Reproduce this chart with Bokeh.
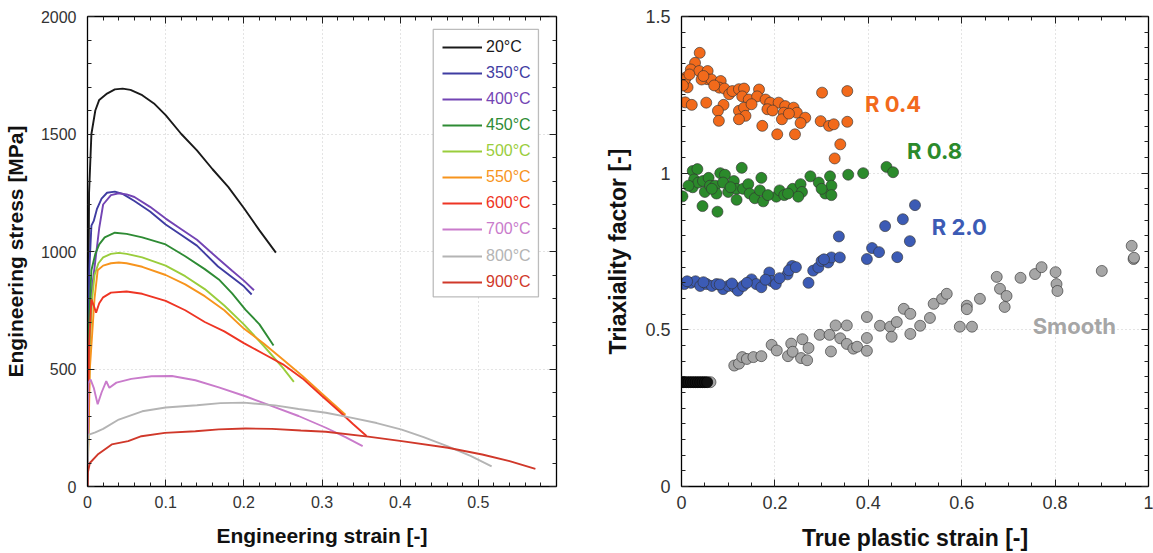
from bokeh.plotting import figure
from bokeh.layouts import row
from bokeh.models import (Legend, LegendItem, LinearAxis, Range1d, BoxAnnotation,
                          SingleIntervalTicker, CustomJSTickFormatter)
from bokeh.core.properties import value
from bokeh.embed import file_html
from bokeh.resources import INLINE

# ---------------- Left panel data: engineering stress-strain ----------------
temps = ["20°C", "350°C", "400°C", "450°C", "500°C", "550°C", "600°C", "700°C", "800°C", "900°C"]
temp_colors = ["#1a1a1a", "#3f3ca2", "#7344b4", "#2e8b34", "#9acd3c", "#f7941d",
               "#ee3524", "#c97bcb", "#b4b4b4", "#d0382a"]

strain_20 = [0, 0.002, 0.005, 0.01, 0.015, 0.025, 0.035, 0.045, 0.055, 0.07, 0.085, 0.1, 0.12, 0.14, 0.16, 0.18, 0.2, 0.22, 0.241]
stress_20 = [0, 1250, 1500, 1600, 1645, 1672, 1690, 1693, 1688, 1665, 1630, 1580, 1500, 1430, 1350, 1275, 1185, 1090, 995]

strain_350 = [0, 0.002, 0.005, 0.008, 0.012, 0.018, 0.025, 0.035, 0.045, 0.06, 0.08, 0.1, 0.12, 0.14, 0.167, 0.185, 0.2, 0.21]
stress_350 = [0, 900, 1110, 1130, 1180, 1225, 1250, 1255, 1245, 1215, 1170, 1115, 1070, 1025, 936, 890, 852, 817]

strain_400 = [0, 0.003, 0.006, 0.01, 0.015, 0.02, 0.03, 0.04, 0.05, 0.06, 0.08, 0.1, 0.12, 0.14, 0.167, 0.185, 0.2, 0.213]
stress_400 = [0, 700, 850, 960, 1100, 1200, 1240, 1248, 1243, 1232, 1190, 1140, 1095, 1050, 970, 918, 876, 835]

strain_450 = [0, 0.002, 0.005, 0.01, 0.015, 0.022, 0.035, 0.05, 0.07, 0.1, 0.125, 0.15, 0.168, 0.185, 0.202, 0.22, 0.238]
stress_450 = [0, 700, 920, 990, 1030, 1060, 1080, 1075, 1060, 1030, 980, 925, 881, 822, 753, 690, 600]

strain_500 = [0, 0.003, 0.006, 0.009, 0.014, 0.02, 0.03, 0.04, 0.05, 0.07, 0.1, 0.125, 0.15, 0.175, 0.2, 0.225, 0.25, 0.264]
stress_500 = [0, 600, 800, 900, 950, 975, 990, 994, 990, 975, 940, 895, 840, 770, 690, 600, 505, 445]

strain_550 = [0, 0.003, 0.006, 0.009, 0.013, 0.02, 0.03, 0.04, 0.05, 0.07, 0.1, 0.125, 0.15, 0.175, 0.2, 0.225, 0.25, 0.275, 0.3, 0.315, 0.33]
stress_550 = [0, 500, 650, 800, 920, 940, 950, 953, 950, 935, 900, 860, 810, 750, 672, 610, 540, 470, 395, 350, 305]

strain_600 = [0, 0.002, 0.005, 0.008, 0.011, 0.015, 0.02, 0.03, 0.05, 0.07, 0.1, 0.125, 0.15, 0.175, 0.2, 0.225, 0.25, 0.275, 0.3, 0.322, 0.34, 0.357]
stress_600 = [0, 600, 796, 770, 740, 780, 805, 825, 830, 820, 790, 750, 700, 660, 610, 565, 520, 460, 385, 320, 265, 215]

strain_700 = [0, 0.001, 0.004, 0.008, 0.013, 0.018, 0.024, 0.028, 0.037, 0.056, 0.082, 0.108, 0.138, 0.168, 0.202, 0.236, 0.27, 0.305, 0.33, 0.352]
stress_700 = [0, 440, 455, 420, 350, 400, 448, 420, 442, 458, 469, 470, 452, 422, 384, 342, 300, 250, 210, 172]

strain_800 = [0, 0.001, 0.01, 0.02, 0.04, 0.07, 0.1, 0.14, 0.17, 0.2, 0.24, 0.27, 0.305, 0.337, 0.37, 0.402, 0.43, 0.461, 0.49, 0.517]
stress_800 = [0, 220, 230, 245, 285, 320, 336, 346, 355, 357, 345, 330, 314, 293, 270, 242, 210, 171, 130, 86]

strain_900 = [0, 0.0005, 0.003, 0.013, 0.031, 0.052, 0.069, 0.099, 0.138, 0.168, 0.202, 0.236, 0.273, 0.305, 0.359, 0.402, 0.461, 0.505, 0.54, 0.573]
stress_900 = [0, 60, 100, 136, 179, 193, 214, 228, 235, 243, 247, 245, 238, 233, 212, 193, 165, 136, 108, 75]

strains = [strain_20, strain_350, strain_400, strain_450, strain_500, strain_550, strain_600, strain_700, strain_800, strain_900]
stresses = [stress_20, stress_350, stress_400, stress_450, stress_500, stress_550, stress_600, stress_700, stress_800, stress_900]

# ---------------- Right panel data: triaxiality vs true plastic strain ----------------
r04_x = [0.039, 0.029, 0.020, 0.009, 0.013, 0.007, 0.038, 0.056, 0.055, 0.043, 0.064, 0.084, 0.081, 0.092, 0.102,
         0.109, 0.123, 0.134, 0.130, 0.144, 0.166, 0.162, 0.180, 0.190, 0.208, 0.222, 0.240, 0.247, 0.265, 0.008,
         0.022, 0.053, 0.090, 0.078, 0.080, 0.123, 0.134, 0.137, 0.123, 0.173, 0.184, 0.205, 0.219, 0.215, 0.243,
         0.301, 0.355, 0.298, 0.316, 0.326, 0.355, 0.340, 0.328, 0.003, 0.017, 0.047, 0.070, 0.150, 0.195, 0.230, 0.255]
r04_y = [1.384, 1.352, 1.331, 1.305, 1.274, 1.298, 1.326, 1.326, 1.300, 1.299, 1.299, 1.294, 1.273, 1.270, 1.252,
         1.262, 1.268, 1.270, 1.245, 1.235, 1.267, 1.245, 1.235, 1.225, 1.225, 1.214, 1.209, 1.193, 1.177, 1.226,
         1.218, 1.225, 1.218, 1.199, 1.167, 1.199, 1.209, 1.183, 1.172, 1.151, 1.204, 1.124, 1.193, 1.172, 1.124,
         1.257, 1.262, 1.166, 1.151, 1.156, 1.164, 1.092, 1.047, 1.280, 1.315, 1.310, 1.280, 1.220, 1.200, 1.190, 1.160]

r08_x = [0.002, 0.024, 0.034, 0.027, 0.024, 0.036, 0.046, 0.050, 0.058, 0.061, 0.072, 0.075, 0.045, 0.077, 0.083,
         0.093, 0.089, 0.100, 0.112, 0.118, 0.118, 0.129, 0.132, 0.143, 0.146, 0.157, 0.168, 0.171, 0.175, 0.203,
         0.210, 0.220, 0.238, 0.255, 0.258, 0.250, 0.276, 0.294, 0.308, 0.318, 0.321, 0.321, 0.357, 0.389, 0.439,
         0.453, 0.015, 0.065, 0.105, 0.185, 0.228, 0.300]
r08_y = [0.926, 1.007, 1.013, 0.980, 0.955, 0.970, 0.975, 0.940, 0.985, 0.960, 0.960, 0.935, 0.895, 0.877, 1.000,
         0.995, 0.970, 0.940, 0.975, 0.950, 0.915, 1.017, 0.950, 0.965, 0.935, 0.920, 0.945, 0.985, 0.910, 0.925,
         0.945, 0.930, 0.950, 0.965, 0.940, 0.925, 0.990, 0.970, 0.935, 0.990, 0.960, 0.930, 0.995, 1.000, 1.020,
         1.003, 0.960, 0.950, 0.955, 0.930, 0.935, 0.950]

r20_x = [0.006, 0.020, 0.030, 0.040, 0.054, 0.065, 0.075, 0.089, 0.100, 0.114, 0.121, 0.132, 0.150, 0.160, 0.171,
         0.188, 0.192, 0.202, 0.227, 0.237, 0.230, 0.272, 0.282, 0.293, 0.300, 0.314, 0.321, 0.339, 0.337, 0.397,
         0.408, 0.423, 0.436, 0.462, 0.474, 0.489, 0.500, 0.012, 0.047, 0.082, 0.108, 0.140, 0.180, 0.210, 0.245,
         0.305]
r20_y = [0.646, 0.650, 0.655, 0.640, 0.646, 0.640, 0.646, 0.630, 0.640, 0.636, 0.625, 0.640, 0.661, 0.646, 0.636,
         0.683, 0.656, 0.646, 0.677, 0.704, 0.690, 0.650, 0.689, 0.699, 0.720, 0.715, 0.731, 0.731, 0.798, 0.726,
         0.761, 0.748, 0.831, 0.732, 0.853, 0.783, 0.898, 0.655, 0.652, 0.645, 0.648, 0.650, 0.660, 0.665, 0.700,
         0.725]

smooth_x = [0.062, 0.113, 0.123, 0.130, 0.140, 0.154, 0.171, 0.193, 0.204, 0.228, 0.235, 0.238, 0.259, 0.256, 0.269,
            0.272, 0.296, 0.317, 0.320, 0.330, 0.340, 0.354, 0.354, 0.368, 0.376, 0.397, 0.397, 0.397, 0.425,
            0.447, 0.450, 0.461, 0.476, 0.490, 0.490, 0.511, 0.532, 0.540, 0.558, 0.568, 0.596, 0.611, 0.611,
            0.622, 0.639, 0.675, 0.682, 0.696, 0.692, 0.726, 0.757, 0.771, 0.801, 0.803, 0.805, 0.900, 0.964,
            0.968, 0.969]
smooth_y = [0.333, 0.386, 0.392, 0.413, 0.407, 0.413, 0.416, 0.452, 0.434, 0.416, 0.456, 0.430, 0.470, 0.410, 0.403,
            0.442, 0.484, 0.484, 0.431, 0.514, 0.473, 0.514, 0.455, 0.440, 0.446, 0.541, 0.474, 0.433, 0.513,
            0.510, 0.478, 0.525, 0.567, 0.551, 0.487, 0.513, 0.538, 0.583, 0.599, 0.615, 0.510, 0.577, 0.566,
            0.510, 0.599, 0.669, 0.631, 0.608, 0.573, 0.666, 0.678, 0.700, 0.684, 0.646, 0.624, 0.688, 0.768,
            0.726, 0.730]

elastic_x = [0.0, 0.005, 0.01, 0.015, 0.02, 0.025, 0.03, 0.035, 0.04, 0.045, 0.05, 0.055]
elastic_y = [0.333, 0.333, 0.333, 0.333, 0.333, 0.333, 0.333, 0.333, 0.333, 0.333, 0.333, 0.333]

series_labels = ["R 0.4", "R 0.8", "R 2.0", "Smooth"]
series_colors = ["#f26a1b", "#2b8a2b", "#3c5bb5", "#a6a6a6"]
label_x = [0.393, 0.483, 0.536, 0.752]
label_y = [1.222, 1.072, 0.828, 0.513]

FONT = "Liberation Sans"
TICK_COLOR = "#333333"
BLANK = CustomJSTickFormatter(code="return '';")


def style(p, xtick, ytick, xminor, yminor, tick_size, title_size):
    fmt = CustomJSTickFormatter(code="return String(Math.round(tick*1000)/1000);")
    p.xaxis.ticker = SingleIntervalTicker(interval=xtick, num_minor_ticks=xminor)
    p.yaxis.ticker = SingleIntervalTicker(interval=ytick, num_minor_ticks=yminor)
    p.xaxis.formatter = fmt
    p.yaxis.formatter = fmt
    for ax in (p.xaxis[0], p.yaxis[0]):
        ax.axis_line_color = "black"
        ax.axis_line_width = 1.3
        ax.major_tick_in = 7
        ax.major_tick_out = 0
        ax.minor_tick_in = 4
        ax.minor_tick_out = 0
        ax.major_tick_line_color = "#222222"
        ax.minor_tick_line_color = "#222222"
        ax.major_label_text_font = FONT
        ax.major_label_text_font_size = tick_size
        ax.major_label_text_color = TICK_COLOR
        ax.axis_label_text_font = FONT
        ax.axis_label_text_font_style = "bold"
        ax.axis_label_text_font_size = title_size
        ax.axis_label_text_color = "#111111"
    p.xaxis.major_label_standoff = 9
    p.yaxis.major_label_standoff = 11
    p.xaxis.axis_label_standoff = 13
    p.yaxis.axis_label_standoff = 11
    for side, tick, minor in (("right", ytick, yminor), ("above", xtick, xminor)):
        ax = LinearAxis(ticker=SingleIntervalTicker(interval=tick, num_minor_ticks=minor),
                        formatter=BLANK, major_label_text_font_size="1px", major_label_standoff=0,
                        axis_line_color="black", axis_line_width=1.3,
                        major_tick_in=7, major_tick_out=0, minor_tick_in=4, minor_tick_out=0,
                        major_tick_line_color="#222222", minor_tick_line_color="#222222")
        p.add_layout(ax, side)
    p.grid.grid_line_color = "#c8c8c8"
    p.grid.grid_line_dash = "1 3"
    p.grid.grid_line_width = 1
    p.outline_line_color = "black"
    p.background_fill_color = "white"
    p.border_fill_color = "white"


# ---------------- Left figure ----------------
p1 = figure(width=602, height=553, output_backend="svg", toolbar_location=None,
            x_range=Range1d(0, 0.6), y_range=Range1d(0, 2000),
            min_border_left=86, min_border_right=46, min_border_top=16, min_border_bottom=66,
            x_axis_label="Engineering strain [-]", y_axis_label="Engineering stress [MPa]")
style(p1, 0.1, 500, 5, 5, "16px", "21px")

box = BoxAnnotation(left=0.4423, right=0.5769, top=1945, bottom=807,
                    fill_color="white", fill_alpha=1.0, line_color="#222222", line_width=1.3)
p1.add_layout(box)

renderers = []
for sx, sy, col in zip(strains, stresses, temp_colors):
    r = p1.line(sx, sy, line_color=col, line_width=1.9)
    renderers.append(r)

for i, (lab, col, r) in enumerate(zip(temps, temp_colors, renderers)):
    center = 46.7 + 26.1 * i
    lg = Legend(items=[LegendItem(label=lab, renderers=[r])],
                location=(355, 488 - center - 11),
                padding=0, margin=0, spacing=0,
                glyph_width=40, glyph_height=16, label_height=16, label_standoff=4,
                label_text_font=FONT, label_text_font_size="16px", label_text_color=col,
                label_text_baseline="middle",
                border_line_alpha=0, background_fill_alpha=0)
    p1.add_layout(lg)

# ---------------- Right figure ----------------
p2 = figure(width=551, height=553, output_backend="svg", toolbar_location=None,
            x_range=Range1d(0, 1), y_range=Range1d(0, 1.5),
            min_border_left=77, min_border_right=5, min_border_top=16, min_border_bottom=66,
            x_axis_label="True plastic strain [-]", y_axis_label="Triaxiality factor [-]")
style(p2, 0.2, 0.5, 4, 10, "18px", "23px")

for xs, ys, col in ((r04_x, r04_y, series_colors[0]), (r08_x, r08_y, series_colors[1]),
                    (r20_x, r20_y, series_colors[2]), (smooth_x, smooth_y, series_colors[3])):
    p2.scatter(xs, ys, size=11, fill_color=col, line_color="#333333", line_width=0.8, line_alpha=0.8)
p2.scatter(elastic_x, elastic_y, size=11, fill_color="#111111", line_color="#000000", line_width=0.7)

p2.text(x=label_x, y=label_y, text=series_labels, text_color=series_colors,
        text_font=value("Inter"), text_font_style="bold", text_font_size="22px",
        text_baseline="middle", text_align="left")

layout = row(p1, p2, spacing=0)
open("out.html", "w").write(file_html(layout, INLINE))
